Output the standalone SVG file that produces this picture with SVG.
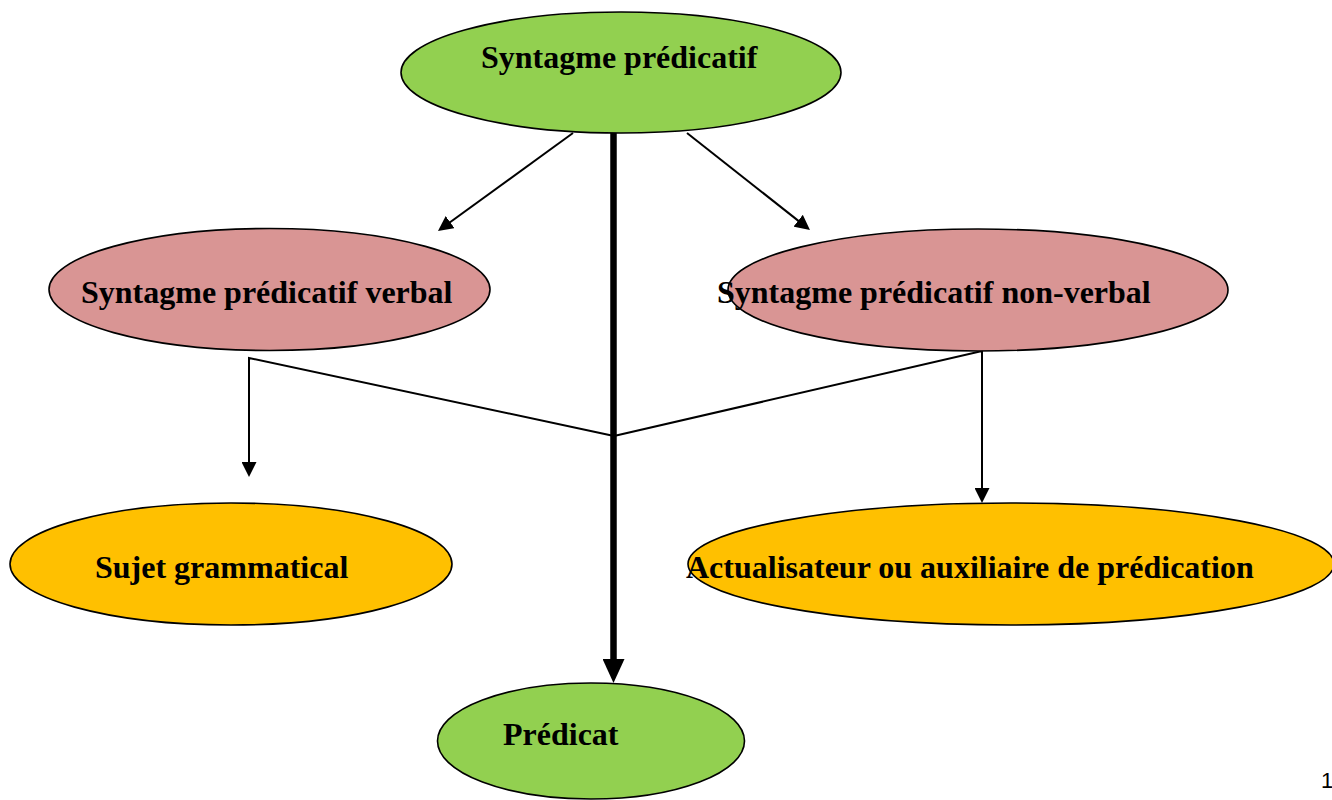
<svg xmlns="http://www.w3.org/2000/svg" width="1332" height="800" viewBox="0 0 1332 800">
<style>
  .node { stroke: #000; stroke-width: 1.6; }
  .green { fill: #92D050; }
  .pink { fill: #D99594; }
  .orange { fill: #FFC000; }
  .lbl { font-family: "Liberation Serif", "Times New Roman", serif; font-weight: bold; font-size: 32px; fill: #000; }
  .thin { fill: none; stroke: #000; stroke-width: 2; }
  .thick { fill: none; stroke: #000; stroke-width: 6.5; }
  .pg { font-family: "Liberation Sans", Arial, sans-serif; font-size: 22px; fill: #000; }
</style>
<defs>
  <marker id="arr" viewBox="0 0 15 15" refX="12" refY="7.5" markerWidth="15" markerHeight="15" markerUnits="userSpaceOnUse" orient="auto">
    <path d="M0,0 L15,7.5 L0,15 z" fill="#000"/>
  </marker>
  <marker id="arrThick" viewBox="0 0 24 22" refX="3" refY="11" markerWidth="24" markerHeight="22" markerUnits="userSpaceOnUse" orient="auto">
    <path d="M0,0 L24,11 L0,22 z" fill="#000"/>
  </marker>
</defs>
<rect width="1332" height="800" fill="#fff"/>

<g id="connectors">
  <line class="thin" x1="573" y1="133" x2="440.4" y2="229.2" marker-end="url(#arr)"/>
  <line class="thin" x1="687" y1="133" x2="807.6" y2="228.1" marker-end="url(#arr)"/>
  <polyline class="thin" points="614,436 249,358 249,474" marker-end="url(#arr)"/>
  <polyline class="thin" points="614,436 982,351 982,500" marker-end="url(#arr)"/>
  <line class="thick" x1="613.5" y1="133" x2="613.5" y2="662" marker-end="url(#arrThick)"/>
</g>

<g id="node-syntagme-predicatif">
  <ellipse class="node green" cx="621" cy="72.5" rx="220" ry="60.5"/>
  <text class="lbl" x="481" y="68">Syntagme prédicatif</text>
</g>

<g id="node-spv">
  <ellipse class="node pink" cx="269.5" cy="289.5" rx="220.5" ry="61"/>
  <text class="lbl" x="81" y="303">Syntagme prédicatif verbal</text>
</g>

<g id="node-spnv">
  <ellipse class="node pink" cx="978" cy="290" rx="250" ry="61"/>
  <text class="lbl" x="717" y="303">Syntagme prédicatif non-verbal</text>
</g>

<g id="node-sujet">
  <ellipse class="node orange" cx="231" cy="564" rx="221" ry="61"/>
  <text class="lbl" x="95" y="578">Sujet grammatical</text>
</g>

<g id="node-actualisateur">
  <ellipse class="node orange" cx="1011" cy="564" rx="323" ry="61"/>
  <text class="lbl" x="686" y="578">Actualisateur ou auxiliaire de prédication</text>
</g>

<g id="node-predicat">
  <ellipse class="node green" cx="591" cy="741" rx="153.5" ry="58"/>
  <text class="lbl" x="503" y="745">Prédicat</text>
</g>

<text class="pg" x="1321" y="788">1</text>
</svg>
